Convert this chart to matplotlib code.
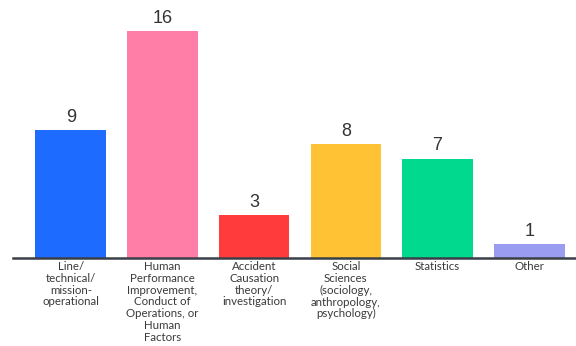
import matplotlib
matplotlib.use("Agg")
import matplotlib.pyplot as plt

categories = [
    "Line/\ntechnical/\nmission-\noperational",
    "Human\nPerformance\nImprovement,\nConduct of\nOperations, or\nHuman\nFactors",
    "Accident\nCausation\ntheory/\ninvestigation",
    "Social\nSciences\n(sociology,\nanthropology,\npsychology)",
    "Statistics",
    "Other",
]
values = [9, 16, 3, 8, 7, 1]
colors = ["#1E6BFF", "#FF7EA8", "#FF3B3B", "#FFC234", "#00D98E", "#9A9CF2"]

fig = plt.figure(figsize=(5.76, 3.46), dpi=100)
ax = fig.add_axes([13/576, 88/346, 563/576, 258/346])
x = list(range(len(values)))
ax.bar(x, values, width=0.77, color=colors)
ax.set_xlim(-0.63, 5.51)
ax.set_ylim(0, 258/14.19)
for xi, v in zip(x, values):
    ax.text(xi, v + 0.3, str(v), ha="center", va="bottom", fontsize=13,
            color="#333333", family="Liberation Sans")
ax.set_xticks(x)
ax.set_xticklabels(categories, fontsize=8.3, color="#3a3a3a", family="Lato",
                   linespacing=1.1, va="top")
ax.tick_params(axis="x", length=0, pad=2)
ax.set_yticks([])
for s in ["top", "right", "left"]:
    ax.spines[s].set_visible(False)
ax.spines["bottom"].set_color("#3A3F47")
ax.spines["bottom"].set_linewidth(1.8)
fig.savefig("out.png", dpi=100)
